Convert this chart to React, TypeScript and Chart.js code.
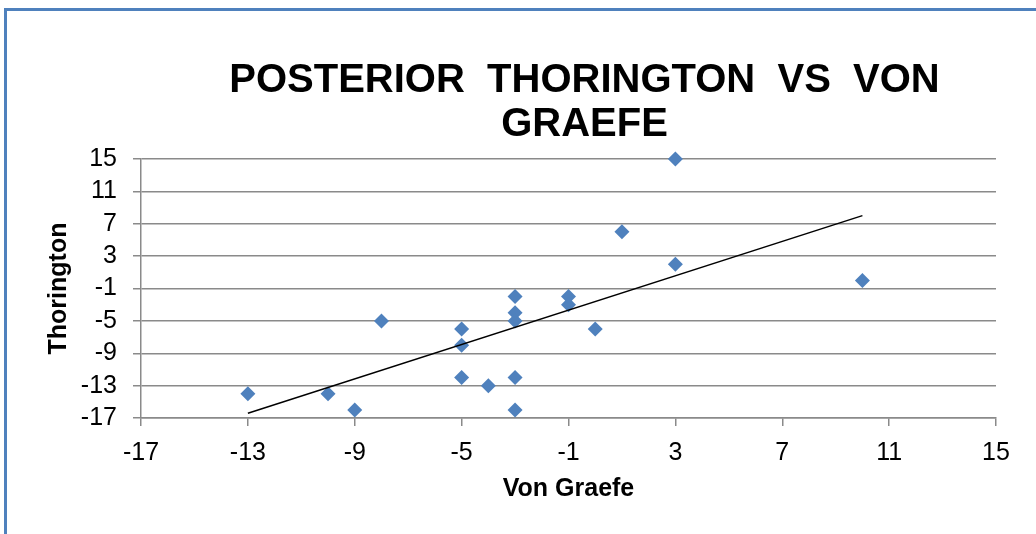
import React, { useEffect, useRef } from "react";
import { Chart, registerables } from "chart.js";

Chart.register(...registerables);

// ---- Data ----
const vonGraefe = [-13, -10, -9, -8, -5, -5, -5, -4, -3, -3, -3, -3, -3, -1, -1, 0, 1, 3, 3, 10];
const thorington = [-14, -14, -16, -5, -6, -8, -12, -13, -2, -4, -5, -12, -16, -2, -3, -6, 6, 15, 2, 0];
const titleLines = ["POSTERIOR  THORINGTON  VS  VON", "GRAEFE"];
const xAxisTitle = "Von Graefe";
const yAxisTitle = "Thorington";
const axisMin = -17;
const axisMax = 15;
const axisStep = 4;

const FONT = '"Liberation Sans", Arial, Helvetica, sans-serif';
const GRID = "#8a8a8a";
const MARKER = "#4F81BD";

function linearTrend(xs: number[], ys: number[]) {
  const n = xs.length;
  const mx = xs.reduce((a, b) => a + b, 0) / n;
  const my = ys.reduce((a, b) => a + b, 0) / n;
  let sxy = 0;
  let sxx = 0;
  for (let i = 0; i < n; i++) {
    sxy += (xs[i] - mx) * (ys[i] - my);
    sxx += (xs[i] - mx) * (xs[i] - mx);
  }
  const slope = sxy / sxx;
  const intercept = my - slope * mx;
  const x0 = Math.min(...xs);
  const x1 = Math.max(...xs);
  return [
    { x: x0, y: intercept + slope * x0 },
    { x: x1, y: intercept + slope * x1 },
  ];
}

const titlePlugin = {
  id: "customTitle",
  afterDraw(chart: any) {
    const { ctx, chartArea } = chart;
    ctx.save();
    ctx.font = `bold 40px ${FONT}`;
    ctx.fillStyle = "#000";
    ctx.textAlign = "center";
    ctx.textBaseline = "alphabetic";
    const cx = (chartArea.left + chartArea.right) / 2 + 16;
    titleLines.forEach((t, i) => {
      ctx.fillText(t, cx, chartArea.top - 67 + i * 44);
    });
    ctx.restore();
  },
};

export default function App() {
  const canvasRef = useRef<HTMLCanvasElement | null>(null);

  useEffect(() => {
    const canvas = canvasRef.current;
    if (!canvas) return;
    const points = vonGraefe.map((x, i) => ({ x, y: thorington[i] }));
    const trend = linearTrend(vonGraefe, thorington);

    const chart = new Chart(canvas, {
      type: "scatter",
      data: {
        datasets: [
          {
            type: "line",
            label: "Trend",
            data: trend,
            borderColor: "#000000",
            borderWidth: 1.5,
            pointRadius: 0,
            fill: false,
            showLine: true,
            clip: false,
          } as any,
          {
            label: "Data",
            data: points,
            pointStyle: "rectRot",
            pointRadius: 7.5,
            pointHoverRadius: 7.5,
            backgroundColor: MARKER,
            borderColor: MARKER,
            borderWidth: 0,
            clip: false,
          } as any,
        ],
      },
      options: {
        responsive: false,
        animation: false,
        layout: { padding: { left: 40, right: 40, top: 159, bottom: 30 } },
        plugins: {
          legend: { display: false },
          tooltip: { enabled: false },
          title: { display: false },
        },
        scales: {
          x: {
            type: "linear",
            position: "bottom",
            min: axisMin,
            max: axisMax,
            ticks: {
              stepSize: axisStep,
              autoSkip: false,
              color: "#000",
              font: { family: FONT, size: 25 },
              padding: 12,
              maxRotation: 0,
            },
            grid: {
              display: true,
              drawOnChartArea: false,
              drawTicks: true,
              tickLength: 8,
              color: GRID,
              lineWidth: 1.5,
            },
            border: { display: true, color: GRID, width: 1.5 },
            title: {
              display: true,
              text: xAxisTitle,
              color: "#000",
              font: { family: FONT, size: 25, weight: "bold" },
              padding: { top: 0, bottom: 0 },
            },
            afterFit: (scale: any) => {
              scale.height = 86;
            },
          },
          y: {
            type: "linear",
            min: axisMin,
            max: axisMax,
            ticks: {
              stepSize: axisStep,
              autoSkip: false,
              color: "#000",
              font: { family: FONT, size: 25 },
              padding: 16,
            },
            grid: {
              display: true,
              drawOnChartArea: true,
              drawTicks: true,
              tickLength: 8,
              color: GRID,
              lineWidth: 1.5,
            },
            border: { display: true, color: GRID, width: 1.5 },
            title: {
              display: true,
              text: yAxisTitle,
              color: "#000",
              font: { family: FONT, size: 25, weight: "bold" },
              padding: { top: 4, bottom: 0 },
            },
            afterFit: (scale: any) => {
              scale.width = 101;
            },
          },
        },
      },
      plugins: [titlePlugin],
    });

    return () => chart.destroy();
  }, []);

  return (
    <div
      style={{
        position: "fixed",
        left: 0,
        top: 0,
        width: 1036,
        height: 534,
        background: "#fff",
        overflow: "hidden",
      }}
    >
      <div
        style={{
          position: "absolute",
          left: 4,
          top: 8,
          right: 0,
          bottom: 0,
          borderLeft: "3px solid #4F81BD",
          borderTop: "3px solid #4F81BD",
        }}
      />
      <canvas
        ref={canvasRef}
        width={1036}
        height={534}
        style={{ position: "absolute", left: 0, top: 0, width: 1036, height: 534 }}
      />
    </div>
  );
}
